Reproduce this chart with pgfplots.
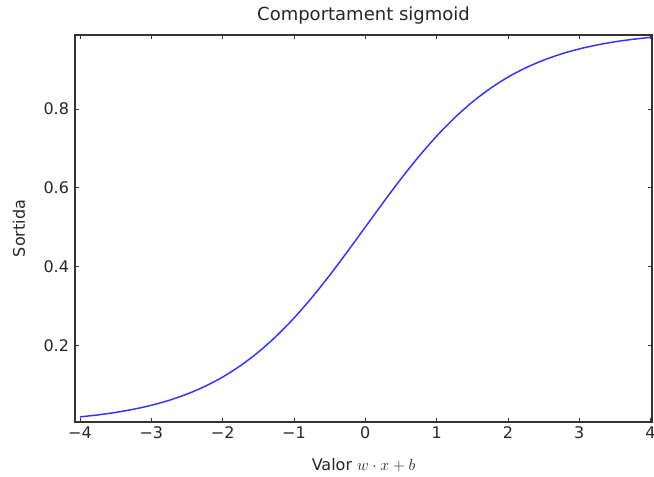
\documentclass[border=0pt]{standalone}
\usepackage{fontspec}
\setmainfont{DejaVu Sans}
\usepackage{pgfplots}
\pgfplotsset{compat=1.18}

% sigmoid sampled every 0.25 on [-4,4]
\pgfplotstableread{
x y
-4.00 0.01799
-3.75 0.02298
-3.50 0.02931
-3.25 0.03733
-3.00 0.04743
-2.75 0.06009
-2.50 0.07586
-2.25 0.09535
-2.00 0.11920
-1.75 0.14805
-1.50 0.18243
-1.25 0.22270
-1.00 0.26894
-0.75 0.32082
-0.50 0.37754
-0.25 0.43782
0.00 0.50000
0.25 0.56218
0.50 0.62246
0.75 0.67918
1.00 0.73106
1.25 0.77730
1.50 0.81757
1.75 0.85195
2.00 0.88080
2.25 0.90465
2.50 0.92414
2.75 0.93991
3.00 0.95257
3.25 0.96267
3.50 0.97069
3.75 0.97702
4.00 0.98201
}\sigmoid

\begin{document}
\begin{tikzpicture}
\begin{axis}[
    scale only axis,
    width=432.75pt, height=290.25pt,
    xmin=-4.07, xmax=4.02,
    ymin=0.005, ymax=0.988,
    xtick={-4,-3,-2,-1,0,1,2,3,4},
    xticklabels={−4,−3,−2,−1,0,1,2,3,4},
    ytick={0.2,0.4,0.6,0.8},
    yticklabels={0.2,0.4,0.6,0.8},
    tick align=inside,
    major tick length=3pt,
    tick style={black!80, line width=0.5pt},
    axis line style={black!80, line width=0.9pt},
    every tick label/.style={font=\fontsize{12}{14}\selectfont, text=black!85},
    yticklabel style={xshift=-1pt},
    title={Comportament sigmoid},
    title style={font=\fontsize{13.5}{16}\selectfont, text=black!85, yshift=-1.5pt},
    xlabel={Valor $w\cdot x+b$},
    ylabel={Sortida},
    label style={font=\fontsize{12}{14}\selectfont, text=black!85},
    xlabel style={yshift=-8pt},
    ylabel style={yshift=7pt},
]
\addplot[blue!80!white, line width=1.1pt, smooth] table[x=x, y=y] {\sigmoid};
\end{axis}
\pgfresetboundingbox
\useasboundingbox (-56.25pt,-41.25pt) rectangle (434.25pt,316.5pt);
\end{tikzpicture}
\end{document}
